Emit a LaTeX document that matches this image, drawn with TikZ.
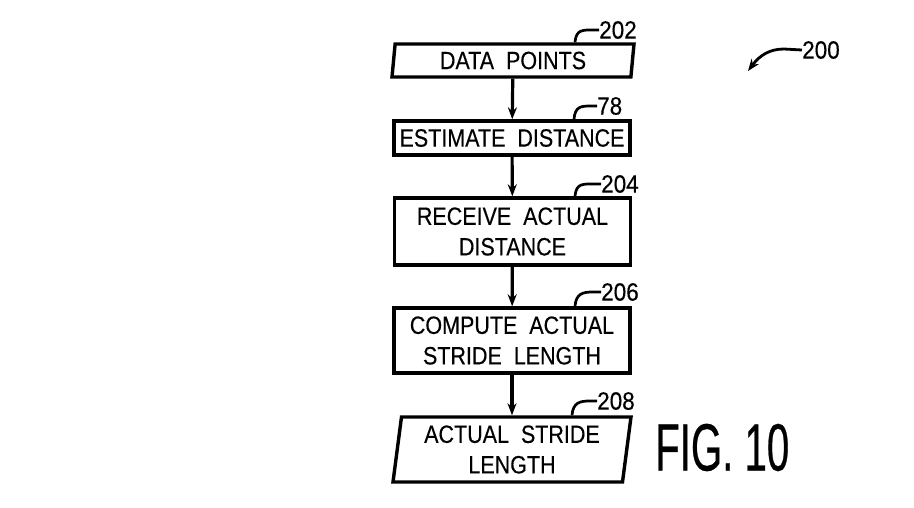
\documentclass[tikz,border=0pt]{standalone}
\usepackage{fontspec}
\setmainfont{Liberation Sans}
\newfontfamily\cajafont[FakeStretch=0.86,WordSpace=2,FakeBold=0.3]{Liberation Sans}
\newfontfamily\reffont[FakeStretch=0.9,FakeBold=0.3]{Liberation Sans}
\newfontfamily\figfont[FakeStretch=0.6,FakeBold=0.4]{Liberation Sans}
\usetikzlibrary{shapes.geometric,arrows.meta}

\begin{document}
\begin{tikzpicture}[x=1pt,y=-1pt,
	caja/.style={draw, line width=3.4pt, rectangle, minimum width=236pt, inner sep=0pt,
		align=center, font=\cajafont\fontsize{25}{30.5}\selectfont},
	datos/.style={caja, trapezium, trapezium left angle=80, trapezium right angle=100,
		trapezium stretches body},
	flecha/.style={-{Stealth[length=12pt,width=9pt]}, line width=3.2pt},
	guia/.style={line width=2.7pt},
	ref/.style={anchor=west, inner sep=0pt, font=\reffont\fontsize{25}{25}\selectfont}]
	\useasboundingbox (0,0) rectangle (914,507);
	% cajas
	\node[datos, minimum width=242pt, minimum height=33pt] (puntos) at (513,60.5) {DATA POINTS};
	\node[caja, minimum height=34pt] (estimar) at (512,138) {ESTIMATE DISTANCE};
	\node[caja, minimum height=67pt] (recibir) at (512.5,231.5) {RECEIVE ACTUAL\\DISTANCE};
	\node[caja, minimum height=65pt] (calcular) at (512,340.5) {COMPUTE ACTUAL\\STRIDE LENGTH};
	\node[datos, minimum width=238pt, minimum height=65pt] (zancada) at (512,449.5) {ACTUAL STRIDE\\LENGTH};
	% flechas
	\draw[flecha] (puntos) -- (estimar);
	\draw[flecha] (estimar) -- (recibir);
	\draw[flecha] (recibir) -- (calcular);
	\draw[flecha] (calcular) -- (zancada);
	% numeros de referencia
	\node[ref] (n202) at (599,30) {202};
	\node[ref] (n78) at (597,106) {78};
	\node[ref] (n204) at (601,184) {204};
	\node[ref] (n206) at (601,292) {206};
	\node[ref] (n208) at (597,401) {208};
	\draw[guia] (puntos.north -| 575,0) .. controls +(1,-13) and +(-10,0) .. (n202.west -| 593,0) -- (n202.west);
	\draw[guia] (estimar.north -| 574,0) .. controls +(1,-13) and +(-10,0) .. (n78.west -| 591,0) -- (n78.west);
	\draw[guia] (recibir.north -| 575,0) .. controls +(1,-13) and +(-10,0) .. (n204.west -| 593,0) -- (n204.west);
	\draw[guia] (calcular.north -| 575,0) .. controls +(1,-13) and +(-10,0) .. (n206.west -| 593,0) -- (n206.west);
	\draw[guia] (zancada.north -| 572,0) .. controls +(1,-13) and +(-10,0) .. (n208.west -| 590,0) -- (n208.west);
	% figura
	\node[ref] (n200) at (802,50) {200};
	\coordinate (p200) at (748,71);
	\draw[-{Stealth[length=12pt,width=9pt]}, line width=2.8pt] (n200.west) -- (784,49) .. controls (770,49) and (760,55) .. (p200);
	\node[anchor=west, inner sep=0pt, font=\figfont\fontsize{67}{67}\selectfont] (fig) at (655,447.5) {FIG. 10};
\end{tikzpicture}
\end{document}
